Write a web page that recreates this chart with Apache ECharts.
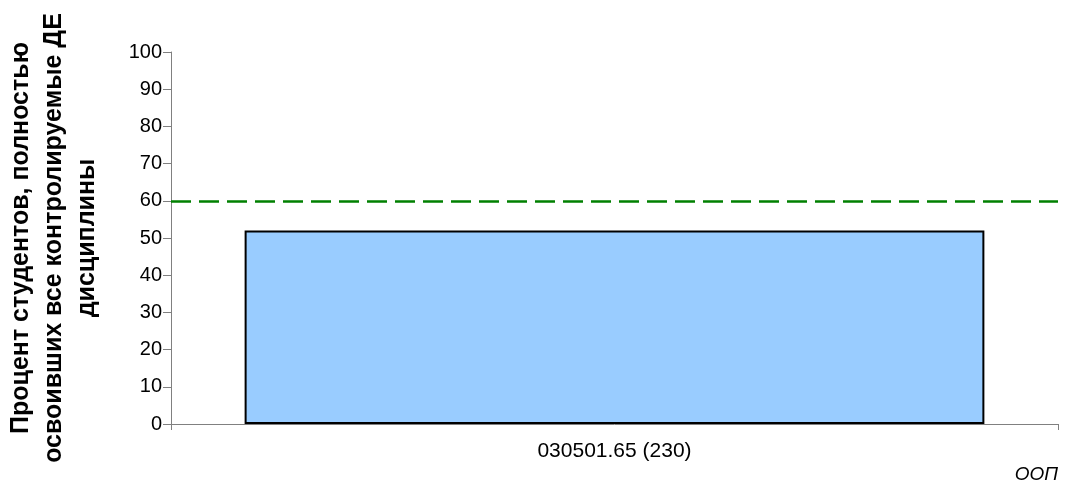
<!DOCTYPE html>
<html>
<head>
<meta charset="utf-8">
<script src="https://cdn.jsdelivr.net/npm/echarts@6/dist/echarts.min.js"></script>
<style>
html,body{margin:0;padding:0;background:#fff;}
#chart{width:1077px;height:484px;}
</style>
</head>
<body>
<div id="chart"></div>
<script>
const categories = ['030501.65 (230)'];
const percentValues = [52];
const thresholdValue = 60;
const yTickMin = 0;
const yTickMax = 100;
const yTickStep = 10;
const yAxisTitle = 'Процент студентов, полностью\nосвоивших все контролируемые ДЕ\nдисциплины';
const xAxisTitle = 'ООП';

const chart = echarts.init(document.getElementById('chart'), null, {renderer: 'canvas'});
const font = 'Liberation Sans, Arial, Helvetica, sans-serif';
chart.setOption({
  animation: false,
  backgroundColor: '#ffffff',
  grid: {left: 171, right: 19, top: 52, bottom: 60, containLabel: false, outerBoundsMode: 'none'},
  xAxis: {
    type: 'category',
    data: categories,
    boundaryGap: true,
    axisLine: {lineStyle: {color: '#808080', width: 1}},
    axisTick: {show: true, length: 6, lineStyle: {color: '#808080'}},
    axisLabel: {color: '#000', fontFamily: font, fontSize: 21, margin: 17},
    splitLine: {show: false}
  },
  yAxis: {
    type: 'value',
    min: yTickMin, max: yTickMax, interval: yTickStep,
    name: yAxisTitle,
    nameLocation: 'middle',
    nameRotate: 90,
    nameGap: 67,
    nameTextStyle: {color: '#000', fontFamily: font, fontSize: 25, fontWeight: 'bold', lineHeight: 33, align: 'center'},
    axisLine: {show: true, lineStyle: {color: '#808080', width: 1}},
    axisTick: {show: true, length: 8, lineStyle: {color: '#808080'}},
    axisLabel: {color: '#000', fontFamily: font, fontSize: 20, margin: 9},
    splitLine: {show: false}
  },
  graphic: [{
    type: 'text', right: 19, bottom: 0,
    style: {text: xAxisTitle, fill: '#000', font: 'italic 19px ' + font}
  }],
  series: [{
    type: 'bar',
    data: percentValues,
    barWidth: '83.4%',
    itemStyle: {color: '#99CCFF', borderColor: '#000', borderWidth: 2},
    markLine: {
      silent: true,
      symbol: ['none', 'none'],
      label: {show: false},
      lineStyle: {color: '#008000', width: 2.5, type: [20, 8]},
      data: [{yAxis: thresholdValue}]
    }
  }]
});
</script>
</body>
</html>
